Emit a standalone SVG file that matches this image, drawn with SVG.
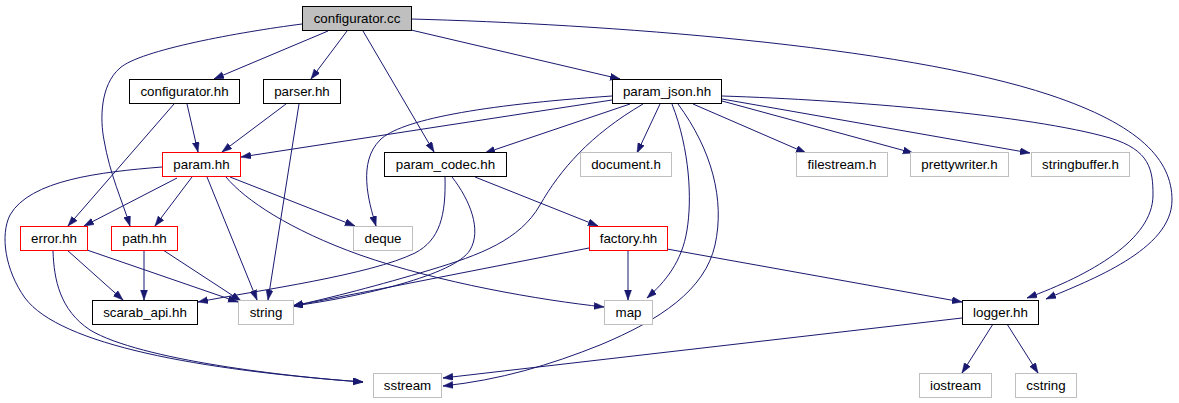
<svg xmlns="http://www.w3.org/2000/svg" width="1179" height="403" viewBox="0 0 1179 403">
<style>
  rect { fill: #ffffff; stroke-width: 1; }
  .doc { stroke: #000000; }
  .main { stroke: #000000; fill: #bfbfbf; }
  .red { stroke: #ff0000; }
  .ext { stroke: #bfbfbf; }
  text { font-family: "Liberation Sans", Arial, Helvetica, sans-serif; font-size: 13.33px; text-anchor: middle; fill: #000000; }
  .e path { fill: none; stroke: #191970; stroke-width: 1; marker-end: url(#arr); }
</style>
<defs>
  <marker id="arr" markerUnits="userSpaceOnUse" markerWidth="11" markerHeight="8" refX="10" refY="3.5" orient="auto">
    <path d="M0,0 L10,3.5 L0,7 z" fill="#191970" stroke="#191970" stroke-width="0.5"/>
  </marker>
</defs>
<rect x="0" y="0" width="1179" height="403" style="fill:#ffffff;stroke:none"/>
<g id="connectors" class="e">
  <path d="M328,31 L214,79"/>
  <path d="M347,31 L311,79"/>
  <path d="M302,24 C 240,32 140,50 120,68 C 100,85 100,120 104,140 C 110,175 122,200 130,226"/>
  <path d="M363,31 L434,152"/>
  <path d="M411,30 L620,79"/>
  <path d="M411,19 C 600,24 900,45 1050,95 C 1140,125 1172,160 1172,200 C 1172,250 1090,280 1046,299"/>
  <path d="M187,104 L198,152"/>
  <path d="M174,104 L68,226"/>
  <path d="M286,104 L222,152"/>
  <path d="M299,104 L268,300"/>
  <path d="M612,100 L241,157"/>
  <path d="M612,96 C 480,105 400,120 380,140 C 358,162 368,200 376,226"/>
  <path d="M630,104 L485,153"/>
  <path d="M660,104 L637,153"/>
  <path d="M693,104 L806,153"/>
  <path d="M722,101 L913,153"/>
  <path d="M722,99 L1030,153"/>
  <path d="M722,96 C 850,100 1030,115 1110,138 C 1150,150 1153,170 1153,195 C 1153,240 1090,275 1027,298"/>
  <path d="M643,104 C 590,135 560,170 540,205 C 520,240 480,255 430,270 C 380,285 330,298 293,306"/>
  <path d="M672,104 C 690,150 692,200 687,230 C 682,262 665,282 647,298"/>
  <path d="M678,104 C 712,150 725,200 715,245 C 705,290 660,320 600,345 C 550,365 500,380 443,386"/>
  <path d="M177,178 L84,226"/>
  <path d="M192,177 L155,226"/>
  <path d="M207,177 L257,300"/>
  <path d="M230,177 L355,226"/>
  <path d="M226,177 C 245,200 290,230 360,255 C 440,283 540,300 604,307"/>
  <path d="M162,167 C 100,172 30,180 10,215 C 0,235 5,270 25,298 C 60,345 200,370 363,382"/>
  <path d="M53,251 C 54,280 60,310 90,330 C 140,360 290,377 363,382"/>
  <path d="M67,250 L123,300"/>
  <path d="M87,250 L238,302"/>
  <path d="M163,250 L241,301"/>
  <path d="M144,250 L144,300"/>
  <path d="M445,177 C 446,215 440,240 415,253 C 370,275 260,290 198,302"/>
  <path d="M452,177 C 470,200 482,230 470,250 C 455,275 360,297 293,306"/>
  <path d="M475,177 L598,226"/>
  <path d="M589,248 L293,306"/>
  <path d="M628,250 L628,300"/>
  <path d="M667,249 L962,302"/>
  <path d="M962,318 L443,378"/>
  <path d="M993,324 L962,373"/>
  <path d="M1007,324 L1038,373"/>
</g>
<g id="n_configurator_cc"><rect class="main" x="302.5" y="6.5" width="109" height="24"/><text x="357" y="23">configurator.cc</text></g>
<g id="n_configurator_hh"><rect class="doc" x="129.5" y="79.5" width="110" height="24"/><text x="184.5" y="96">configurator.hh</text></g>
<g id="n_parser_hh"><rect class="doc" x="263.5" y="79.5" width="77" height="24"/><text x="302" y="96">parser.hh</text></g>
<g id="n_param_json_hh"><rect class="doc" x="612.5" y="79.5" width="109" height="24"/><text x="667" y="96">param_json.hh</text></g>
<g id="n_param_hh"><rect class="red" x="162.5" y="152.5" width="78" height="24"/><text x="201.5" y="169">param.hh</text></g>
<g id="n_param_codec_hh"><rect class="doc" x="384.5" y="152.5" width="122" height="24"/><text x="445.5" y="169">param_codec.hh</text></g>
<g id="n_document_h"><rect class="ext" x="580.5" y="152.5" width="91" height="24"/><text x="626" y="169">document.h</text></g>
<g id="n_filestream_h"><rect class="ext" x="796.5" y="152.5" width="91" height="24"/><text x="842" y="169">filestream.h</text></g>
<g id="n_prettywriter_h"><rect class="ext" x="910.5" y="152.5" width="98" height="24"/><text x="959.5" y="169">prettywriter.h</text></g>
<g id="n_stringbuffer_h"><rect class="ext" x="1031.5" y="152.5" width="98" height="24"/><text x="1080.5" y="169">stringbuffer.h</text></g>
<g id="n_error_hh"><rect class="red" x="20.5" y="226.5" width="67" height="24"/><text x="54" y="243">error.hh</text></g>
<g id="n_path_hh"><rect class="red" x="111.5" y="226.5" width="66" height="24"/><text x="144.5" y="243">path.hh</text></g>
<g id="n_deque"><rect class="ext" x="353.5" y="226.5" width="59" height="24"/><text x="383" y="243">deque</text></g>
<g id="n_factory_hh"><rect class="red" x="589.5" y="226.5" width="78" height="24"/><text x="628.5" y="243">factory.hh</text></g>
<g id="n_scarab_api_hh"><rect class="doc" x="92.5" y="300.5" width="105" height="24"/><text x="145" y="317">scarab_api.hh</text></g>
<g id="n_string"><rect class="ext" x="238.5" y="300.5" width="55" height="24"/><text x="266" y="317">string</text></g>
<g id="n_map"><rect class="ext" x="604.5" y="300.5" width="48" height="24"/><text x="628.5" y="317">map</text></g>
<g id="n_logger_hh"><rect class="doc" x="962.5" y="300.5" width="76" height="24"/><text x="1000.5" y="317">logger.hh</text></g>
<g id="n_sstream"><rect class="ext" x="373.5" y="373.5" width="68" height="24"/><text x="407.5" y="390">sstream</text></g>
<g id="n_iostream"><rect class="ext" x="919.5" y="373.5" width="72" height="24"/><text x="955.5" y="390">iostream</text></g>
<g id="n_cstring"><rect class="ext" x="1015.5" y="373.5" width="61" height="24"/><text x="1046" y="390">cstring</text></g>
</svg>
